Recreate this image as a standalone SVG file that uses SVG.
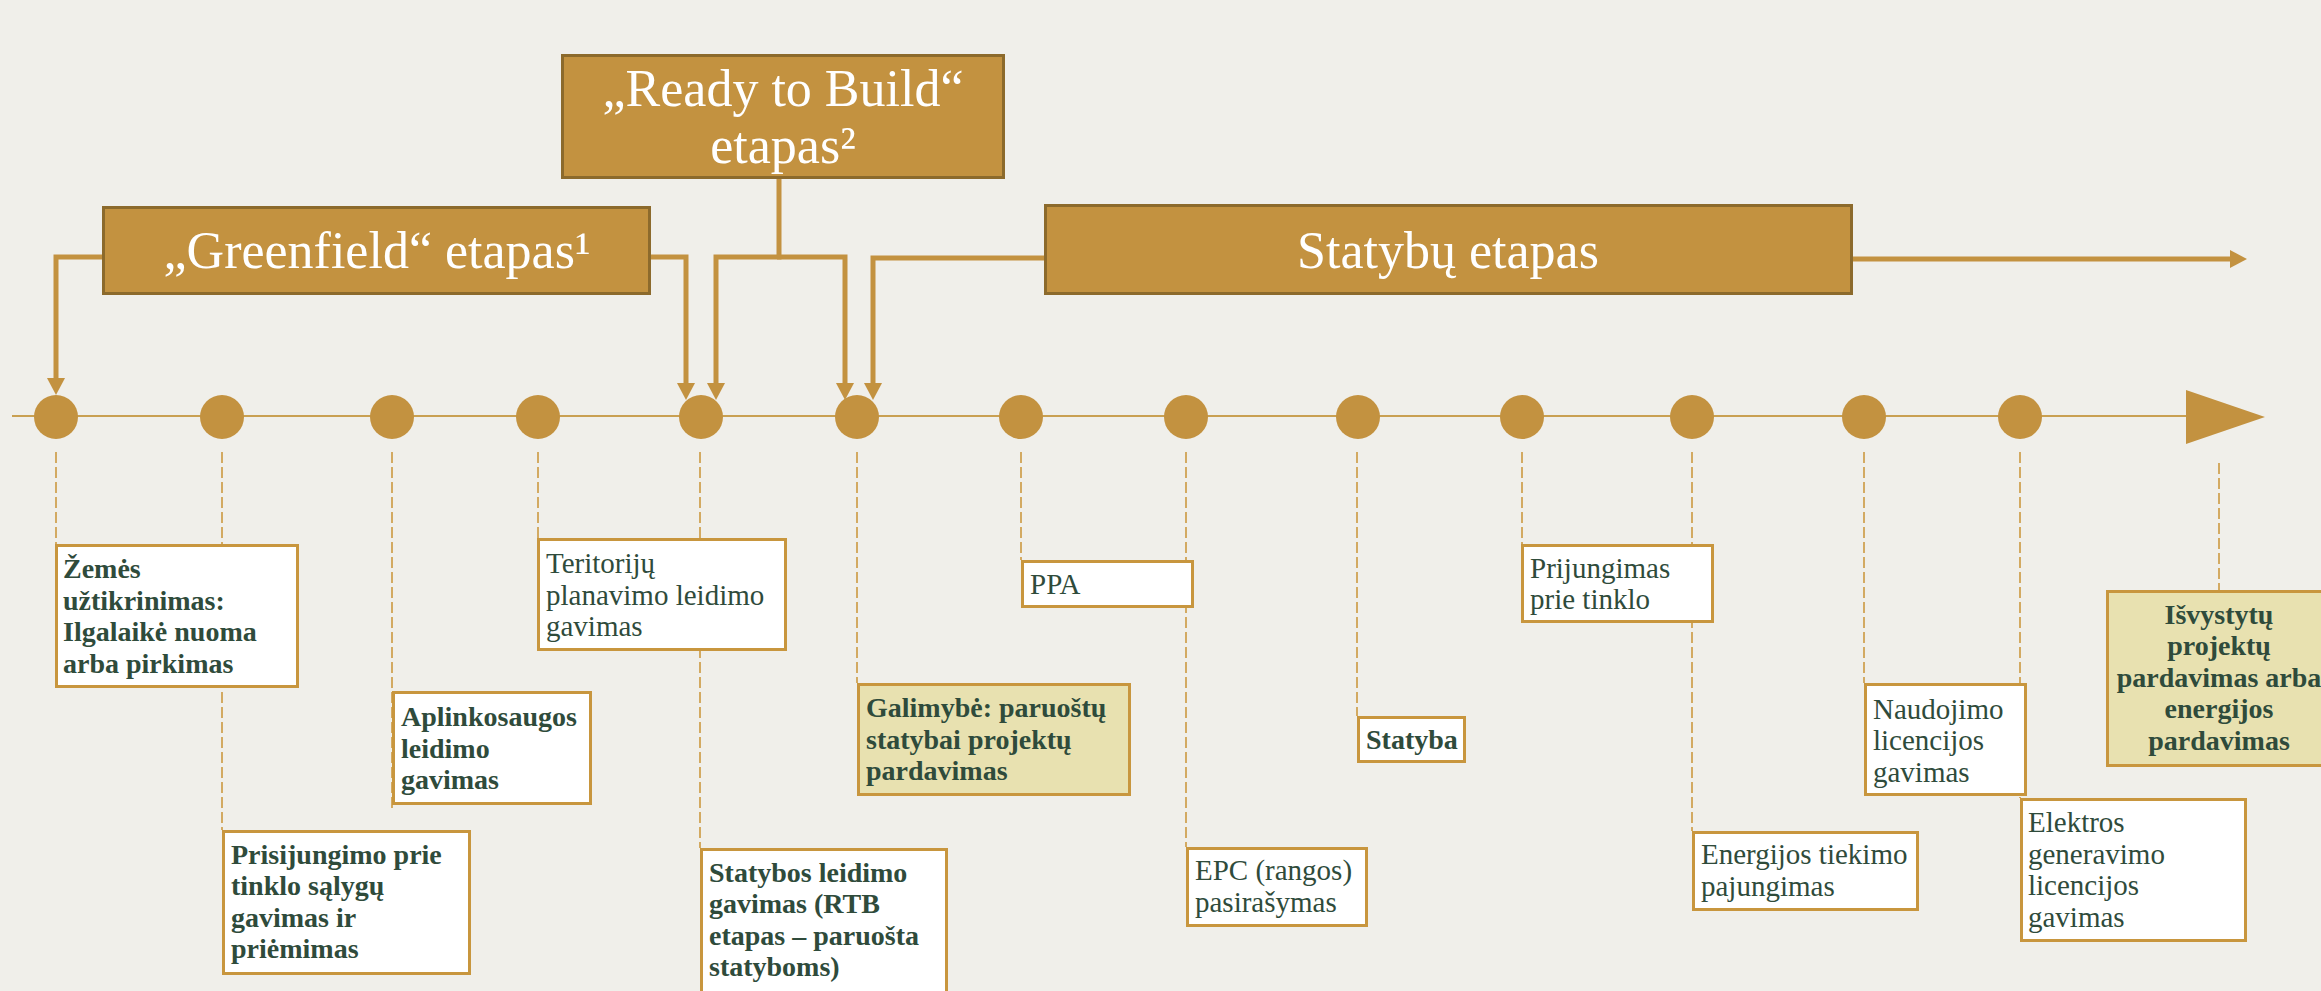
<svg xmlns="http://www.w3.org/2000/svg" width="2321" height="991" viewBox="0 0 2321 991">
<defs>
<style>
.bg{fill:#f0efea}
.phase{fill:#c39240;stroke:#8c6a2c;stroke-width:3}
.ptxt{font-family:"Liberation Serif","DejaVu Serif",serif;font-size:52px;fill:#ffffff;text-anchor:middle}
.conn{fill:none;stroke:#c39240;stroke-width:5;stroke-linejoin:miter}
.axis{stroke:#c9a052;stroke-width:2}
.dot{fill:#c39240}
.drop{stroke:#d3aa62;stroke-width:2;stroke-dasharray:11 4;fill:none}
.box{fill:#ffffff;stroke:#c8963e;stroke-width:3}
.hbox{fill:#e8e1b0;stroke:#c8963e;stroke-width:3}
.t{font-family:"Liberation Serif","DejaVu Serif",serif;fill:#2f4b3b;font-size:29px}
.b{font-weight:bold;font-size:28px}
</style>
<marker id="ah" markerUnits="userSpaceOnUse" markerWidth="18" markerHeight="18" refX="0" refY="9" orient="auto" viewBox="0 0 18 18">
<path d="M0,0 L17,9 L0,18 z" fill="#c39240"/>
</marker>
</defs>
<rect class="bg" x="0" y="0" width="2321" height="991"/>

<g id="connectors">
<path class="conn" d="M102,257 H56 V378" marker-end="url(#ah)"/>
<path class="conn" d="M651,257 H686 V383" marker-end="url(#ah)"/>
<path class="conn" d="M779,179 V257 H716 V383" marker-end="url(#ah)"/>
<path class="conn" d="M777,257 H845 V383" marker-end="url(#ah)"/>
<path class="conn" d="M1044,258 H873 V383" marker-end="url(#ah)"/>
<path class="conn" d="M1853,259 H2230" marker-end="url(#ah)"/>
<line class="drop" x1="56" y1="452" x2="56" y2="544"/>
<line class="drop" x1="222" y1="452" x2="222" y2="830"/>
<line class="drop" x1="392" y1="452" x2="392" y2="812"/>
<line class="drop" x1="538" y1="452" x2="538" y2="538"/>
<line class="drop" x1="700" y1="452" x2="700" y2="848"/>
<line class="drop" x1="857" y1="452" x2="857" y2="683"/>
<line class="drop" x1="1021" y1="452" x2="1021" y2="560"/>
<line class="drop" x1="1186" y1="452" x2="1186" y2="847"/>
<line class="drop" x1="1357" y1="452" x2="1357" y2="716"/>
<line class="drop" x1="1522" y1="452" x2="1522" y2="544"/>
<line class="drop" x1="1692" y1="452" x2="1692" y2="831"/>
<line class="drop" x1="1864" y1="452" x2="1864" y2="683"/>
<line class="drop" x1="2020" y1="452" x2="2020" y2="798"/>
<line class="drop" x1="2219" y1="463" x2="2219" y2="590"/>
</g>

<g id="timeline">
<line class="axis" x1="12" y1="416" x2="2190" y2="416"/>
<polygon class="dot" points="2186,390 2265,417 2186,444"/>
<circle class="dot" cx="56" cy="417" r="22"/>
<circle class="dot" cx="222" cy="417" r="22"/>
<circle class="dot" cx="392" cy="417" r="22"/>
<circle class="dot" cx="538" cy="417" r="22"/>
<circle class="dot" cx="701" cy="417" r="22"/>
<circle class="dot" cx="857" cy="417" r="22"/>
<circle class="dot" cx="1021" cy="417" r="22"/>
<circle class="dot" cx="1186" cy="417" r="22"/>
<circle class="dot" cx="1358" cy="417" r="22"/>
<circle class="dot" cx="1522" cy="417" r="22"/>
<circle class="dot" cx="1692" cy="417" r="22"/>
<circle class="dot" cx="1864" cy="417" r="22"/>
<circle class="dot" cx="2020" cy="417" r="22"/>
</g>

<g id="greenfield">
<rect class="phase" x="103.5" y="207.5" width="546" height="86"/>
<text class="ptxt" x="377" y="268">„Greenfield“ etapas¹</text>
</g>
<g id="rtb">
<rect class="phase" x="562.5" y="55.5" width="441" height="122"/>
<text class="ptxt" x="783" y="106">„Ready to Build“</text>
<text class="ptxt" x="783" y="163">etapas²</text>
</g>
<g id="statybu">
<rect class="phase" x="1045.5" y="205.5" width="806" height="88"/>
<text class="ptxt" x="1448" y="268">Statybų etapas</text>
</g>

<g id="n1">
<rect class="box" x="56.5" y="545.5" width="241" height="141"/>
<text class="t b" x="63" y="578">Žemės</text>
<text class="t b" x="63" y="610">užtikrinimas:</text>
<text class="t b" x="63" y="641">Ilgalaikė nuoma</text>
<text class="t b" x="63" y="673">arba pirkimas</text>
</g>
<g id="n2">
<rect class="box" x="223.5" y="831.5" width="246" height="142"/>
<text class="t b" x="231" y="864">Prisijungimo prie</text>
<text class="t b" x="231" y="895">tinklo sąlygų</text>
<text class="t b" x="231" y="927">gavimas ir</text>
<text class="t b" x="231" y="958">priėmimas</text>
</g>
<g id="n3">
<rect class="box" x="393.5" y="692.5" width="197" height="111"/>
<text class="t b" x="401" y="726">Aplinkosaugos</text>
<text class="t b" x="401" y="758">leidimo</text>
<text class="t b" x="401" y="789">gavimas</text>
</g>
<g id="n4">
<rect class="box" x="538.5" y="539.5" width="247" height="110"/>
<text class="t" x="546" y="573">Teritorijų</text>
<text class="t" x="546" y="605">planavimo leidimo</text>
<text class="t" x="546" y="636">gavimas</text>
</g>
<g id="n5">
<rect class="box" x="701.5" y="849.5" width="245" height="160"/>
<text class="t b" x="709" y="882">Statybos leidimo</text>
<text class="t b" x="709" y="913">gavimas (RTB</text>
<text class="t b" x="709" y="945">etapas – paruošta</text>
<text class="t b" x="709" y="976">statyboms)</text>
</g>
<g id="n6">
<rect class="hbox" x="858.5" y="684.5" width="271" height="110"/>
<text class="t b" x="866" y="717">Galimybė: paruoštų</text>
<text class="t b" x="866" y="749">statybai projektų</text>
<text class="t b" x="866" y="780">pardavimas</text>
</g>
<g id="n7">
<rect class="box" x="1022.5" y="561.5" width="170" height="45"/>
<text class="t" x="1030" y="594">PPA</text>
</g>
<g id="n8">
<rect class="box" x="1187.5" y="848.5" width="179" height="77"/>
<text class="t" x="1195" y="880">EPC (rangos)</text>
<text class="t" x="1195" y="912">pasirašymas</text>
</g>
<g id="n9">
<rect class="box" x="1358.5" y="717.5" width="106" height="44"/>
<text class="t b" x="1366" y="749">Statyba</text>
</g>
<g id="n10">
<rect class="box" x="1522.5" y="545.5" width="190" height="76"/>
<text class="t" x="1530" y="578">Prijungimas</text>
<text class="t" x="1530" y="609">prie tinklo</text>
</g>
<g id="n11">
<rect class="box" x="1693.5" y="832.5" width="224" height="77"/>
<text class="t" x="1701" y="864">Energijos tiekimo</text>
<text class="t" x="1701" y="896">pajungimas</text>
</g>
<g id="n12">
<rect class="box" x="1865.5" y="684.5" width="160" height="110"/>
<text class="t" x="1873" y="719">Naudojimo</text>
<text class="t" x="1873" y="750">licencijos</text>
<text class="t" x="1873" y="782">gavimas</text>
</g>
<g id="n13">
<rect class="box" x="2021.5" y="799.5" width="224" height="141"/>
<text class="t" x="2028" y="832">Elektros</text>
<text class="t" x="2028" y="864">generavimo</text>
<text class="t" x="2028" y="895">licencijos</text>
<text class="t" x="2028" y="927">gavimas</text>
</g>
<g id="n14">
<rect class="hbox" x="2107.5" y="591.5" width="223" height="174"/>
<text class="t b" x="2219" y="624" text-anchor="middle">Išvystytų</text>
<text class="t b" x="2219" y="655" text-anchor="middle">projektų</text>
<text class="t b" x="2219" y="687" text-anchor="middle">pardavimas arba</text>
<text class="t b" x="2219" y="718" text-anchor="middle">energijos</text>
<text class="t b" x="2219" y="750" text-anchor="middle">pardavimas</text>
</g>
</svg>
